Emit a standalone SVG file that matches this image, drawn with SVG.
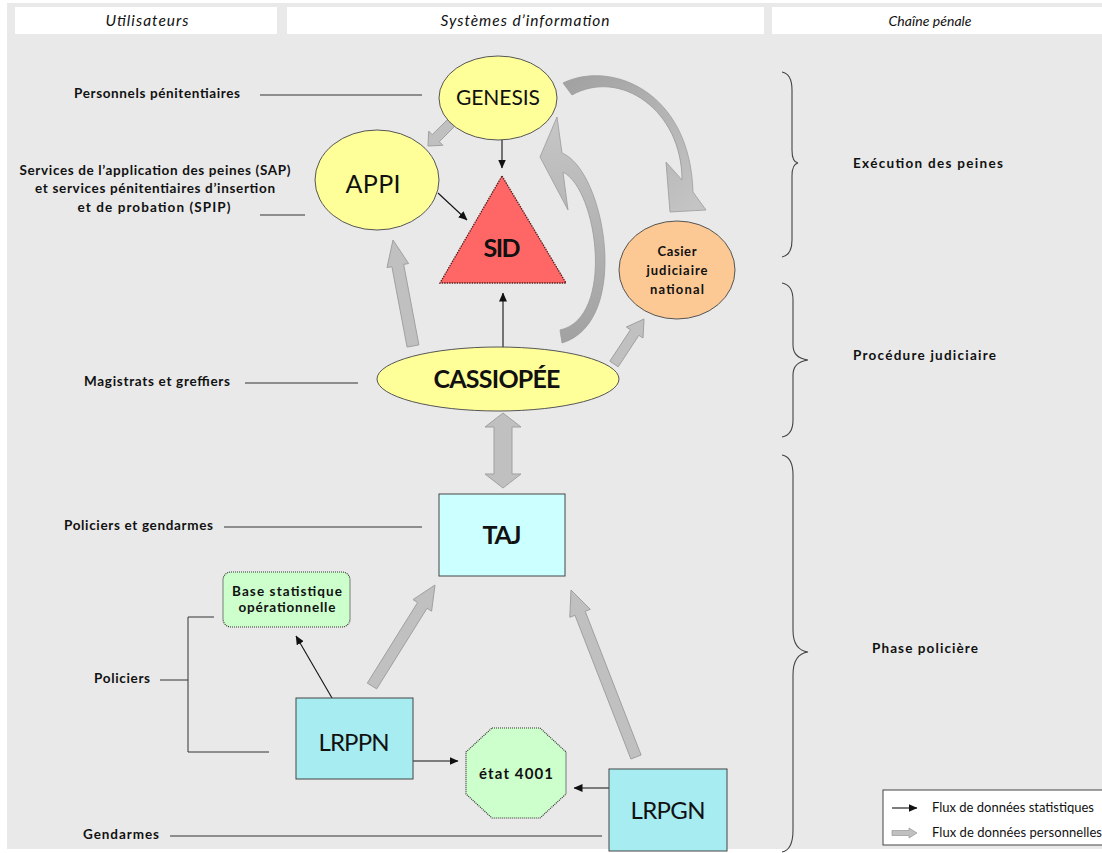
<svg xmlns="http://www.w3.org/2000/svg" width="1102" height="853" viewBox="0 0 1102 853">
<style>
.hdr{font-family:"Lato","Liberation Sans",sans-serif;font-style:italic;font-size:15.5px;fill:#111;text-anchor:middle}
.lbl{font-family:"Lato","Liberation Sans",sans-serif;font-weight:bold;font-size:13.5px;fill:#111}
.ctr{text-anchor:middle}
.node{font-family:"Lato","Liberation Sans",sans-serif;fill:#111;text-anchor:middle}
.lg{font-family:"Lato","Liberation Sans",sans-serif;font-size:13px;fill:#111}
.ln{stroke:#333;stroke-width:1;fill:none}
.blk{stroke:#111;stroke-width:1.1;fill:none;marker-end:url(#ah)}
.garr{fill:#c0c0c0;stroke:#a0a0a0;stroke-width:1}
.brace{stroke:#444;stroke-width:1.1;fill:none}
.yel{fill:#ffff99;stroke:#555;stroke-width:1}
.dot{stroke:#333;stroke-width:1.2;stroke-dasharray:1 1}
</style>
<defs>
<marker id="ah" markerWidth="9" markerHeight="8" refX="8.5" refY="4" orient="auto" markerUnits="userSpaceOnUse">
<path d="M0,0 L9,4 L0,8 Z" fill="#111"/>
</marker>
<linearGradient id="g1" gradientUnits="userSpaceOnUse" x1="565" y1="85" x2="690" y2="210">
<stop offset="0" stop-color="#a2a2a2"/><stop offset="1" stop-color="#c4c4c4"/>
</linearGradient>
<linearGradient id="g2" gradientUnits="userSpaceOnUse" x1="565" y1="340" x2="550" y2="120">
<stop offset="0" stop-color="#a2a2a2"/><stop offset="1" stop-color="#c6c6c6"/>
</linearGradient>
</defs>

<rect x="0" y="0" width="1102" height="853" fill="#ffffff"/>
<rect x="7" y="3" width="1095" height="846" fill="#e9e9e9"/>

<g id="headers">
<rect x="15" y="7" width="262" height="27" fill="#ffffff"/>
<rect x="287" y="7" width="477" height="27" fill="#ffffff"/>
<rect x="772" y="7" width="330" height="27" fill="#ffffff"/>
<text class="hdr" x="147" y="26" textLength="83">Utilisateurs</text>
<text class="hdr" x="525" y="26" textLength="169">Systèmes d’information</text>
<text class="hdr" x="930" y="26" style="font-size:14px" textLength="83">Chaîne pénale</text>
</g>

<g id="users">
<text class="lbl" x="74" y="98" textLength="166">Personnels pénitentiaires</text>
<line class="ln" x1="260" y1="95" x2="422" y2="95"/>
<text class="lbl ctr" x="155" y="175" textLength="271">Services de l’application des peines (SAP)</text>
<text class="lbl ctr" x="155" y="193" textLength="240">et services pénitentiaires d’insertion</text>
<text class="lbl ctr" x="154" y="212" textLength="153">et de probation (SPIP)</text>
<line class="ln" x1="260" y1="215" x2="305" y2="215"/>
<text class="lbl" x="84" y="386" textLength="146">Magistrats et greffiers</text>
<line class="ln" x1="245" y1="383" x2="358" y2="383"/>
<text class="lbl" x="64" y="530" textLength="149">Policiers et gendarmes</text>
<line class="ln" x1="224" y1="527" x2="422" y2="527"/>
<text class="lbl" x="94" y="683" textLength="56">Policiers</text>
<path class="ln" d="M160,680 L188,680 M214,617 L188,617 L188,752 L269,752"/>
<text class="lbl" x="83" y="839" textLength="76">Gendarmes</text>
<line class="ln" x1="170" y1="836" x2="602" y2="836"/>
</g>

<g id="phases">
<path class="brace" d="M782,72 Q792,74 792,90 L792,150 Q792,162 798,163 Q792,164 792,176 L792,240 Q792,255 782,257"/>
<text class="lbl" x="853" y="168" textLength="150">Exécution des peines</text>
<path class="brace" d="M782,283 Q793,285 793,300 L793,345 Q793,358 808,360 Q793,362 793,375 L793,420 Q793,435 782,437"/>
<text class="lbl" x="853" y="360" textLength="143">Procédure judiciaire</text>
<path class="brace" d="M782,455 Q793,457 793,475 L793,630 Q793,650 808,652 Q793,654 793,675 L793,830 Q793,850 782,852"/>
<text class="lbl" x="872" y="653" textLength="106">Phase policière</text>
</g>

<g id="connectors">
<path fill="url(#g1)" stroke="#9a9a9a" stroke-width="0.8" d="M563,83 C610,60 690,90 693,192 L706,210 L670,212 L666,162 L682,180 C682,110 620,68 572,95 Z"/>
<path fill="url(#g2)" stroke="#9a9a9a" stroke-width="0.8" d="M557,117 L562,153 C605,170 632,322 562,343 L560,330 C615,318 598,190 563,172 L568,210 L540,157 Z"/>
<polygon class="garr" points="418.9,344.9 403.7,264.4 408.6,263.5 393,240 387.0,267.6 391.9,266.7 407.1,347.1"/>
<polygon class="garr" points="447.5,119.5 432.2,134.7 428.7,131.1 428,146 442.9,145.3 439.3,141.7 454.5,126.5"/>
<polygon class="garr" points="618.2,366.8 638.9,335.3 643.0,338.0 644,319 626.4,327.0 630.5,329.8 609.8,361.2"/>
<polygon class="garr" points="376.7,688.9 427.0,608.3 431.6,611.2 435,585 413.0,599.6 417.6,602.5 367.3,683.1"/>
<polygon class="garr" points="641.1,755.0 585.2,611.3 590.3,609.3 571,590 569.8,617.3 575.0,615.3 630.9,759.0"/>
<polygon class="garr" points="503,413 521,427 512,427 512,474 521,474 503,488 485,474 494,474 494,427 485,427"/>
<line class="blk" x1="502" y1="140" x2="502" y2="168"/>
<line class="blk" x1="438" y1="193" x2="467" y2="220"/>
<line class="blk" x1="503" y1="348" x2="503" y2="293"/>
<line class="blk" x1="332" y1="698" x2="296" y2="636"/>
<line class="blk" x1="413" y1="761" x2="458" y2="761"/>
<line class="blk" x1="609" y1="788" x2="574" y2="788"/>
</g>

<g id="genesis">
<ellipse class="yel" cx="498" cy="98" rx="59" ry="42"/>
<text class="node" x="498" y="105" font-size="21" textLength="84">GENESIS</text>
</g>
<g id="appi">
<ellipse class="yel" cx="377" cy="180" rx="62" ry="50"/>
<text class="node" x="373" y="193" font-size="25" textLength="55">APPI</text>
</g>
<g id="sid">
<polygon points="502,176 566,283 440,283" fill="#ff6666" stroke="#5a1a1a" stroke-width="1.3" stroke-dasharray="1.5 1"/>
<text class="node" x="502" y="257" font-size="25" font-weight="bold" textLength="37">SID</text>
</g>
<g id="casier">
<ellipse cx="677" cy="270" rx="58" ry="49" fill="#fcc995" stroke="#555" stroke-width="1"/>
<text class="node" x="677" y="256" font-size="13" font-weight="bold" textLength="39">Casier</text>
<text class="node" x="677" y="275" font-size="13" font-weight="bold" textLength="61">judiciaire</text>
<text class="node" x="677" y="294" font-size="13" font-weight="bold" textLength="54">national</text>
</g>
<g id="cassiopee">
<ellipse class="yel" cx="498" cy="379" rx="121" ry="32"/>
<text class="node" x="497" y="388" font-size="25" font-weight="bold" textLength="127">CASSIOPÉE</text>
</g>
<g id="taj">
<rect x="439" y="494" width="126" height="82" fill="#ccffff" stroke="#444" stroke-width="1"/>
<text class="node" x="502" y="544" font-size="25" font-weight="bold" textLength="39">TAJ</text>
</g>
<g id="base">
<rect x="223" y="572" width="127" height="55" rx="8" fill="#ccffcc" class="dot"/>
<text class="node" x="287" y="596" font-size="13.5" font-weight="bold" textLength="110">Base statistique</text>
<text class="node" x="287" y="612" font-size="13.5" font-weight="bold" textLength="97">opérationnelle</text>
</g>
<g id="lrppn">
<rect x="296" y="698" width="117" height="81" fill="#a6ecf0" stroke="#444" stroke-width="1"/>
<text class="node" x="354" y="751" font-size="24" textLength="71">LRPPN</text>
</g>
<g id="etat4001">
<polygon points="492,728 540,728 566,752 566,794 540,818 492,818 466,794 466,752" fill="#ccffcc" class="dot"/>
<text class="node" x="516" y="779" font-size="15" font-weight="bold" textLength="74">état 4001</text>
</g>
<g id="lrpgn">
<rect x="609" y="769" width="118" height="82" fill="#a6ecf0" stroke="#444" stroke-width="1"/>
<text class="node" x="668" y="819" font-size="24" textLength="75">LRPGN</text>
</g>

<g id="legend">
<rect x="883" y="790" width="225" height="55" fill="#ffffff" stroke="#444" stroke-width="1"/>
<line class="blk" x1="892" y1="808" x2="917" y2="808"/>
<text class="lg" x="932" y="812" textLength="162">Flux de données statistiques</text>
<polygon points="892,830.5 909,830.5 909,828 917,833 909,838 909,835.5 892,835.5" fill="#c0c0c0" stroke="#a0a0a0" stroke-width="0.8"/>
<text class="lg" x="932" y="837" textLength="170">Flux de données personnelles</text>
</g>
</svg>
